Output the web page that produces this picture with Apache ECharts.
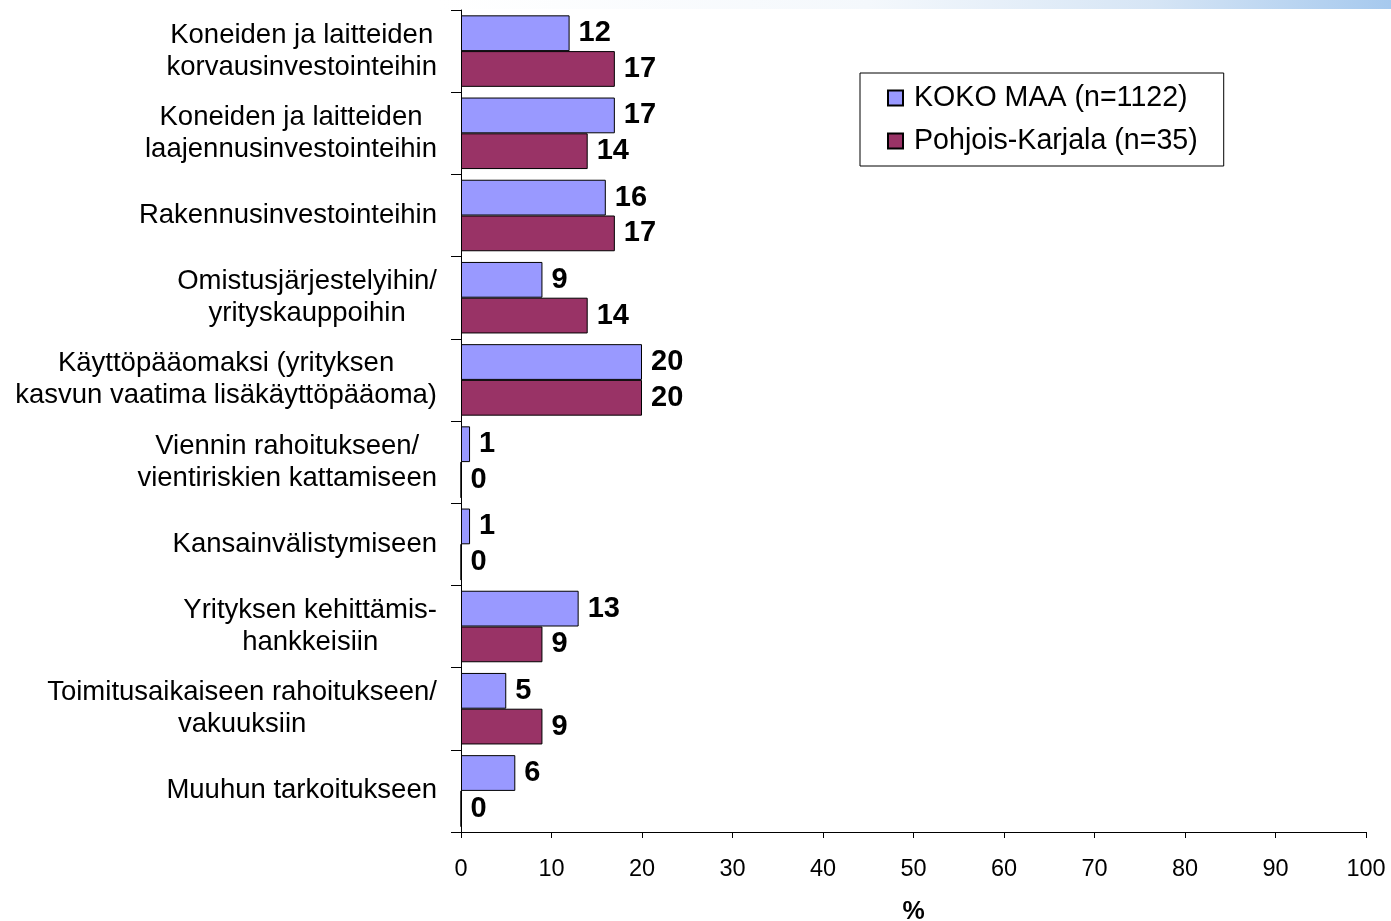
<!DOCTYPE html>
<html>
<head>
<meta charset="utf-8">
<title>Rahoituksen käyttötarkoitus</title>
<script src="https://cdn.jsdelivr.net/npm/echarts@6/dist/echarts.min.js"></script>
<style>
  html, body { margin: 0; padding: 0; background: #fff; }
  #chart { width: 1391px; height: 921px; }
</style>
</head>
<body>
<div id="chart"></div>
<script>
// data
const categories = [
  'Koneiden ja laitteiden\nkorvausinvestointeihin',
  'Koneiden ja laitteiden\nlaajennusinvestointeihin',
  'Rakennusinvestointeihin',
  'Omistusjärjestelyihin/\nyrityskauppoihin',
  'Käyttöpääomaksi (yrityksen\nkasvun vaatima lisäkäyttöpääoma)',
  'Viennin rahoitukseen/\nvientiriskien kattamiseen',
  'Kansainvälistymiseen',
  'Yrityksen kehittämis-\nhankkeisiin',
  'Toimitusaikaiseen rahoitukseen/\nvakuuksiin',
  'Muuhun tarkoitukseen'
];
const kokoMaa = [12, 17, 16, 9, 20, 1, 1, 13, 5, 6];
const pohjoisKarjala = [17, 14, 17, 14, 20, 0, 0, 9, 9, 0];
const seriesNames = ['KOKO MAA (n=1122)', 'Pohjois-Karjala (n=35)'];

const font = '"Liberation Sans", Arial, sans-serif';
const chart = echarts.init(document.getElementById('chart'));

const valueLabel = {
  show: true,
  position: 'right',
  distance: 9,
  color: '#000',
  fontFamily: font,
  fontWeight: 'bold',
  fontSize: 29
};

chart.setOption({
  backgroundColor: '#fff',
  animation: false,
  // faint strip at the very top, left over from the slide
  graphic: [{
    type: 'rect',
    shape: { x: 440, y: 0, width: 951, height: 9 },
    style: {
      fill: new echarts.graphic.LinearGradient(0, 0, 1, 0, [
        { offset: 0, color: '#ffffff' },
        { offset: 0.45, color: '#f4f8fc' },
        { offset: 0.75, color: '#d6e5f5' },
        { offset: 1, color: '#a6c9ee' }
      ])
    },
    silent: true
  }],
  grid: { left: 461, right: 25, top: 10, bottom: 89, containLabel: false, outerBoundsMode: 'none' },
  legend: {
    orient: 'vertical',
    left: 860,
    top: 73,
    padding: [10, 26, 10, 27],
    itemGap: 13,
    itemWidth: 15,
    itemHeight: 15,
    icon: 'rect',
    backgroundColor: '#fff',
    borderColor: '#000',
    borderWidth: 1,
    borderRadius: 0,
    textStyle: { fontFamily: font, fontSize: 28.6, lineHeight: 30, color: '#000', padding: [0, 0, 0, 6] },
    data: seriesNames
  },
  xAxis: {
    type: 'value',
    min: 0,
    max: 100,
    interval: 10,
    name: '%',
    nameLocation: 'middle',
    nameGap: 68,
    nameTextStyle: { fontFamily: font, fontWeight: 'bold', fontSize: 25, color: '#000' },
    axisLine: { show: true, lineStyle: { color: '#000', width: 1 } },
    axisTick: { show: true, length: 6, lineStyle: { color: '#000' } },
    axisLabel: { fontFamily: font, fontSize: 23.5, color: '#000', margin: 26 },
    splitLine: { show: false }
  },
  yAxis: {
    type: 'category',
    inverse: true,
    data: categories,
    axisLine: { show: true, lineStyle: { color: '#000', width: 1 } },
    axisTick: { show: true, length: 10, lineStyle: { color: '#000' } },
    axisLabel: {
      margin: 24,
      color: '#000',
      fontFamily: font,
      fontSize: 27.5,
      lineHeight: 32,
      formatter: function (value) {
        return value.split('\n').map(function (s) { return '{c|' + s + '}'; }).join('\n');
      },
      rich: {
        c: { align: 'center', fontFamily: font, fontSize: 27.5, lineHeight: 32, color: '#000' }
      }
    }
  },
  series: [
    {
      name: seriesNames[0],
      type: 'bar',
      data: kokoMaa,
      barCategoryGap: '13%',
      barGap: 0,
      itemStyle: { color: '#9999ff', borderColor: '#000', borderWidth: 1 },
      label: valueLabel
    },
    {
      name: seriesNames[1],
      type: 'bar',
      data: pohjoisKarjala,
      barCategoryGap: '13%',
      barGap: 0,
      itemStyle: { color: '#993366', borderColor: '#000', borderWidth: 1 },
      label: valueLabel
    }
  ]
});
</script>
</body>
</html>
